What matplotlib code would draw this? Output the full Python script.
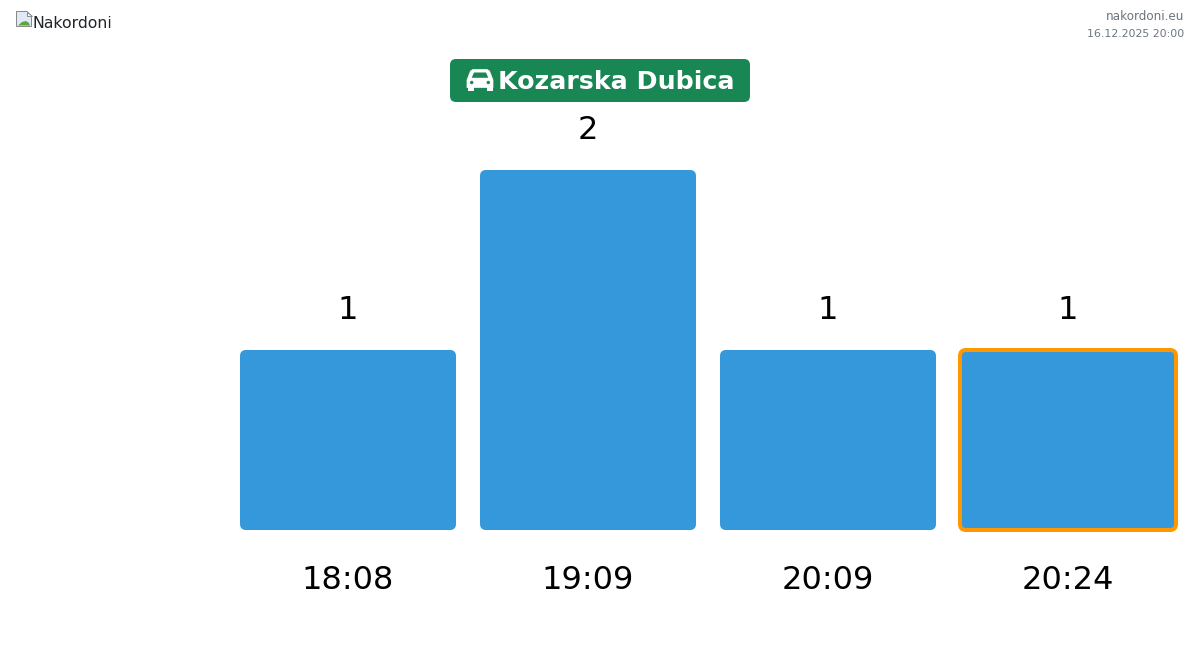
import matplotlib
matplotlib.use("Agg")
import matplotlib.pyplot as plt
from matplotlib.patches import FancyBboxPatch, Polygon, Rectangle, Circle

times = ["18:08", "19:09", "20:09", "20:24"]
counts = [1, 2, 1, 1]
highlight = "20:24"
title = "Kozarska Dubica"
logo_alt = "Nakordoni"
site = "nakordoni.eu"
stamp = "16.12.2025 20:00"

BLUE = "#3498db"
ORANGE = "#ff9800"
GREEN = "#198754"
W, H, DPI = 1200, 651, 100
px = 72 / DPI

plt.rcParams["font.family"] = "DejaVu Sans"
fig = plt.figure(figsize=(W / DPI, H / DPI), dpi=DPI, facecolor="white")

# overlay in pixel coordinates, for header furniture
ov = fig.add_axes([0, 0, 1, 1], zorder=3)
ov.set_xlim(0, W)
ov.set_ylim(H, 0)
ov.axis("off")
ov.patch.set_alpha(0)

# chart axes: x slots 240 px wide, 180 px per count, baseline at y=530
ax = fig.add_axes([228 / W, (H - 530) / H, 960 / W, 360 / H], zorder=2)
ax.set_xlim(-0.5, 3.5)
ax.set_ylim(0, 2)
ax.patch.set_alpha(0)
for s in ax.spines.values():
    s.set_visible(False)
ax.set_yticks([])
ax.set_xticks(range(len(times)))
ax.set_xticklabels(times, fontsize=32 * px, color="black")
ax.tick_params(axis="x", length=0, pad=35 * px)

bw = 216 / 240
for i, (t, c) in enumerate(zip(times, counts)):
    hl = t == highlight
    ax.add_patch(FancyBboxPatch(
        (i - bw / 2, 0), bw, c,
        boxstyle=f"round,pad=0,rounding_size={6 / 240}",
        mutation_aspect=240 / 180,
        facecolor=BLUE,
        edgecolor=ORANGE if hl else "none",
        linewidth=4 * px if hl else 0,
        clip_on=False, zorder=2))
    ax.annotate(str(c), (i, c), xytext=(0, 31 * px), textcoords="offset points",
                ha="center", va="baseline", fontsize=32 * px, color="black",
                annotation_clip=False)

# title badge
ov.add_patch(FancyBboxPatch((450, 59), 300, 43, boxstyle="round,pad=0,rounding_size=6",
                            facecolor=GREEN, edgecolor="none"))
ov.text(498, 89, title, fontsize=25.25 * px, fontweight="bold", color="white",
        ha="left", va="baseline")
# car icon
ov.add_patch(Polygon([(473, 69.5), (487, 69.5), (489.5, 71), (492, 77.5), (493, 80), (493, 87.5), (467, 87.5),
                      (467, 80), (468, 77.5), (470.5, 71)], closed=True, fc="white", ec="white", lw=0.5, joinstyle="round"))
ov.add_patch(Rectangle((467.5, 86), 6, 5.2, fc="white", ec="none"))
ov.add_patch(Rectangle((486.5, 86), 6, 5.2, fc="white", ec="none"))
ov.add_patch(Polygon([(474, 72.5), (486, 72.5), (488.3, 77.8), (471.7, 77.8)], closed=True, fc=GREEN, ec="none"))
ov.add_patch(Circle((471.7, 82.5), 1.7, fc=GREEN, ec="none"))
ov.add_patch(Circle((488.3, 82.5), 1.7, fc=GREEN, ec="none"))

# broken-image placeholder
ov.add_patch(Polygon([(16.5, 11.5), (27, 11.5), (31.5, 16), (31.5, 26.5), (16.5, 26.5)],
                     closed=True, fc="#dfe9f7", ec="#8a8a8a", lw=1 * px))
ov.add_patch(Polygon([(18, 25.5), (22, 22), (26, 21), (29, 23), (30, 25.5)], closed=True,
                     fc="#5aa83c", ec="none"))
ov.add_patch(Polygon([(27, 11.5), (27, 16), (31.5, 16)], closed=True, fc="white", ec="#8a8a8a", lw=1 * px))
ov.text(33, 28, logo_alt, fontsize=15.75 * px, color="#212529", ha="left", va="baseline")

# top-right stamp
ov.text(1184, 20.5, site, fontsize=12 * px, color="#6c757d", ha="right", va="baseline")
ov.text(1184, 37, stamp, fontsize=11 * px, color="#6c757d", ha="right", va="baseline")

fig.savefig("out.png", dpi=DPI, facecolor="white")
